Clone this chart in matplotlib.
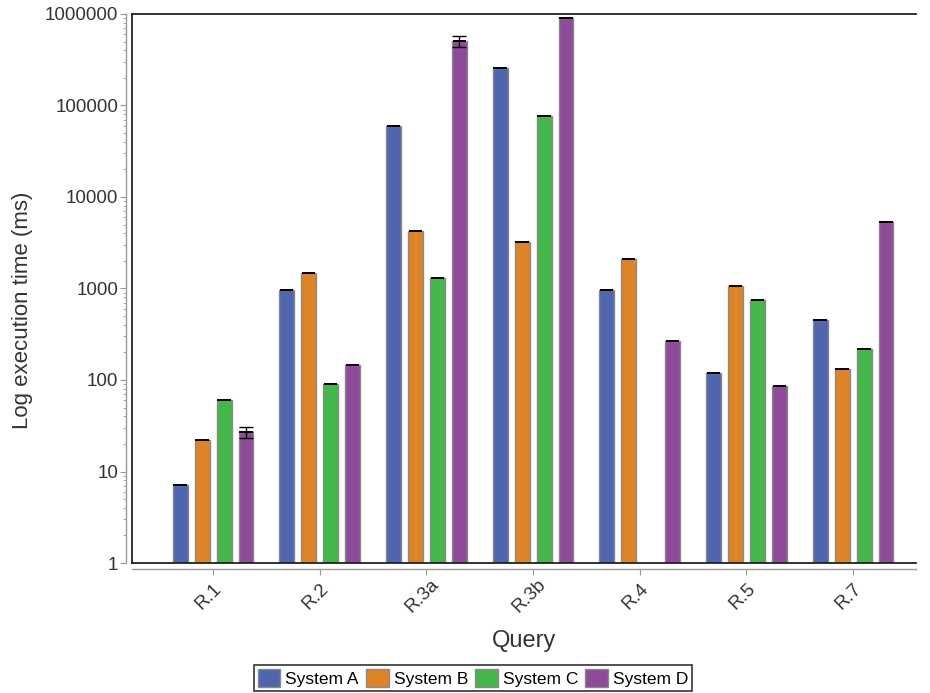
import matplotlib
matplotlib.use("Agg")
import matplotlib.pyplot as plt
import matplotlib.transforms as mtransforms
import numpy as np
from matplotlib.ticker import LogLocator, FixedFormatter, FixedLocator, NullFormatter

queries = ["R.1", "R.2", "R.3a", "R.3b", "R.4", "R.5", "R.7"]
systems = ["System A", "System B", "System C", "System D"]
sys_a = [7.1, 970, 60000, 257000, 970, 120, 455]
sys_b = [22, 1480, 4300, 3200, 2100, 1070, 132]
sys_c = [60, 91, 1300, 77000, np.nan, 740, 220]
sys_d = [27, 146, 510000, 910000, 265, 86, 5300]
err_d = [4, 0, 70000, 0, 0, 0, 0]
colors = ["#4F65AE", "#DC8427", "#45B649", "#8E4B99"]
series = [sys_a, sys_b, sys_c, sys_d]

plt.rcParams['font.family'] = ['Liberation Sans', 'DejaVu Sans']

fig = plt.figure(figsize=(9.3, 6.93), dpi=100)
ax = fig.add_axes([132/930, 1-563/693, (916-132)/930, (563-14)/693])

x = np.arange(len(queries))
step = 0.206
width = 0.14
for i, (vals, c) in enumerate(zip(series, colors)):
    v = np.array(vals, dtype=float)
    pos = x + (i - 1.5) * step
    ax.bar(pos, v, width=width, color=c, edgecolor="#8a8a8a", linewidth=1.0,
           label=systems[i], zorder=2)
    # thin black line on top of each bar (tiny error)
    ax.errorbar(pos, v, xerr=width/2*0.9, fmt="none", ecolor="black",
                elinewidth=1.4, zorder=3)
    if i == 3:
        e = np.array(err_d, dtype=float)
        m = e > 0
        ax.errorbar(pos[m], v[m], yerr=e[m], fmt="none", ecolor="black",
                    elinewidth=1.0, capsize=5, capthick=1.0, zorder=3)

ax.set_yscale("log")
ax.set_ylim(1, 1000000)
ax.set_xlim(-0.76, 6.59)

# frame lines (top, left, bottom) in black
ax.plot([0, 1], [1, 1], transform=ax.transAxes, color="#222222", lw=1.3, clip_on=False, zorder=5)
ax.plot([0, 0], [0, 1], transform=ax.transAxes, color="#222222", lw=1.3, clip_on=False, zorder=5)
ax.plot([0, 1], [0, 0], transform=ax.transAxes, color="#222222", lw=1.3, clip_on=False, zorder=5)

for s in ["top", "right"]:
    ax.spines[s].set_visible(False)
ax.spines["left"].set_position(("outward", 4))
ax.spines["bottom"].set_position(("outward", 4))
for s in ["left", "bottom"]:
    ax.spines[s].set_color("#999999")
    ax.spines[s].set_linewidth(1.0)

yt = [1, 10, 100, 1000, 10000, 100000, 1000000]
ax.yaxis.set_major_locator(FixedLocator(yt))
ax.yaxis.set_major_formatter(FixedFormatter([str(v) for v in yt]))
ax.yaxis.set_minor_locator(LogLocator(base=10, subs=np.arange(2, 10)))
ax.yaxis.set_minor_formatter(NullFormatter())
ax.tick_params(axis="y", which="major", length=4, color="#999999", labelsize=13.5,
               labelcolor="#333333", pad=2)
ax.tick_params(axis="y", which="minor", length=2.5, color="#999999")

ax.set_xticks(x)
ax.set_xticklabels(queries, rotation=45, rotation_mode="anchor")
ax.tick_params(axis="x", length=4, color="#999999", labelsize=13.5, labelcolor="#333333", pad=0)
offset = mtransforms.ScaledTranslation(-4/100, -22/100, fig.dpi_scale_trans)
for lbl in ax.get_xticklabels():
    lbl.set_horizontalalignment("center")
    lbl.set_verticalalignment("center")
    lbl.set_transform(lbl.get_transform() + offset)

ax.set_ylabel("Log execution time (ms)", fontsize=16, color="#333333")
ax.yaxis.set_label_coords(-(132-22)/784, 1-(310-14)/549, transform=ax.transAxes)
ax.yaxis.label.set_verticalalignment("center")
ax.set_xlabel("Query", fontsize=17, color="#333333", labelpad=0)
ax.xaxis.set_label_coords(0.5, -(641-563)/549, transform=ax.transAxes)
ax.xaxis.label.set_verticalalignment("center")

leg = fig.legend(loc="center", bbox_to_anchor=(473/930, 1-678/693), ncol=4,
                 frameon=True, fancybox=False, edgecolor="black", fontsize=12.5,
                 handlelength=1.3, handleheight=1.3, handletextpad=0.3,
                 columnspacing=0.4, borderpad=0.2, borderaxespad=0)
leg.get_frame().set_linewidth(1.2)
for h in leg.legend_handles:
    h.set_edgecolor("#8a8a8a")

fig.savefig("out.png", dpi=100)
